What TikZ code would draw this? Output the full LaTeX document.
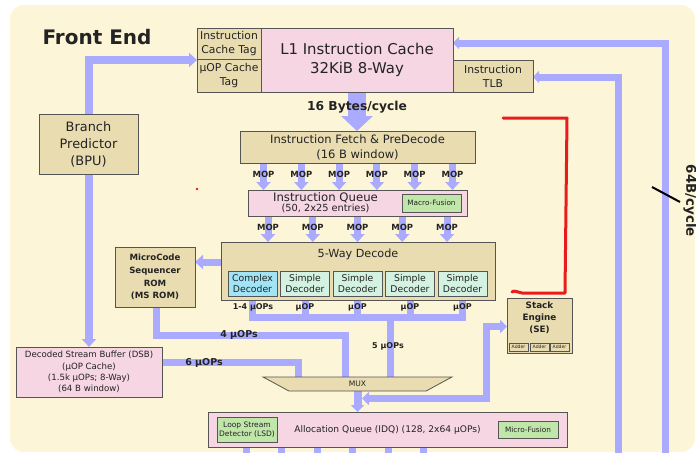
\documentclass[tikz,border=0pt]{standalone}
\usepackage{fontspec}
\setmainfont{DejaVu Sans}
\usetikzlibrary{arrows.meta,shapes.geometric}
\pgfdeclarelayer{bglayer}
\pgfdeclarelayer{linelayer}
\pgfsetlayers{bglayer,linelayer,main}
\definecolor{creamc}{RGB}{253,245,215}
\definecolor{tanc}{RGB}{232,220,176}
\definecolor{pinkc}{RGB}{245,214,226}
\definecolor{greenc}{RGB}{192,230,170}
\definecolor{cyanc}{RGB}{160,228,246}
\definecolor{mintc}{RGB}{212,242,226}
\definecolor{flowc}{RGB}{170,170,255}
\definecolor{bordc}{RGB}{85,85,85}
\definecolor{txtc}{RGB}{35,35,35}
\definecolor{redc}{RGB}{232,28,28}
\newcommand{\fsz}[2]{\fontsize{#1}{#2}\selectfont}
\tikzset{
  bx/.style={draw=bordc, line width=0.8pt, inner sep=0pt, outer sep=0pt, align=center, text=txtc},
  tanbox/.style={bx, fill=tanc},
  pinkbox/.style={bx, fill=pinkc},
  greenbox/.style={bx, fill=greenc},
  cyanbox/.style={bx, fill=cyanc},
  mintbox/.style={bx, fill=mintc},
  sz/.style 2 args={minimum width=#1pt, minimum height=#2pt},
  lbl/.style={inner sep=0pt, text=txtc, align=center},
  flow/.style={draw=flowc, line width=7pt, line join=miter},
  arr/.style={-{Triangle[width=14pt,length=8pt]}},
  sarr/.style={-{Triangle[width=12pt,length=6pt]}},
}
\begin{document}
\begin{tikzpicture}[x=1pt,y=-1pt]
\useasboundingbox (0,0) rectangle (696,453);
\begin{pgfonlayer}{bglayer}
\fill[white] (0,0) rectangle (696,453);
\fill[creamc, rounded corners=14pt] (10,5) rectangle (695,452);
\end{pgfonlayer}

% boxes
\node[tanbox, sz={64}{31}, font=\fsz{10.8}{14}] (ict) at (229,43.5) {Instruction\\Cache Tag};
\node[tanbox, sz={64}{33}, font=\fsz{10.8}{14}] (uct) at (229,75.5) {μOP Cache\\Tag};
\node[pinkbox, sz={192}{64}, font=\fsz{14.9}{18.7}] (l1) at (357,60) {L1 Instruction Cache\\32KiB 8-Way};
\node[tanbox, sz={80}{32}, font=\fsz{10.8}{14}] (tlb) at (493,76) {Instruction\\TLB};
\node[tanbox, sz={235}{32}, font=\fsz{11.5}{15}] (fetch) at (357.5,147) {Instruction Fetch \& PreDecode\\(16 B window)};
\node[pinkbox, sz={219}{26}] (iq) at (357.5,203) {};
\node[lbl, font=\fsz{11.7}{13}] (iqt1) at (325.5,197.7) {Instruction Queue};
\node[lbl, font=\fsz{9.8}{11}] (iqt2) at (325.5,208.8) {(50, 2x25 entries)};
\node[greenbox, sz={59}{18}, font=\fsz{7.3}{9}] (mf1) at (431.5,203) {Macro-Fusion};
\node[tanbox, sz={274}{58}] (dec) at (358,271) {};
\node[lbl, font=\fsz{11.2}{13}] (dect) at (358,254) {5-Way Decode};
\node[cyanbox, sz={49}{25}, font=\fsz{9.3}{11.3}] (d1) at (252.5,283.5) {Complex\\Decoder};
\foreach \i/\x in {2/305,3/357.5,4/410,5/462.5}
  \node[mintbox, sz={49}{25}, font=\fsz{9.3}{11.3}] (d\i) at (\x,283.5) {Simple\\Decoder};
\node[tanbox, sz={80}{60}, font=\bfseries\fsz{8.6}{12.6}] (ms) at (155,277) {MicroCode\\Sequencer\\ROM\\(MS ROM)};
\node[tanbox, sz={99}{60}, font=\fsz{12.9}{17}] (bpu) at (88.5,144) {Branch\\Predictor\\(BPU)};
\node[pinkbox, sz={146}{50}, font=\fsz{8.6}{11.4}] (dsb) at (89,372) {Decoded Stream Buffer (DSB)\\(μOP Cache)\\(1.5k μOPs; 8-Way)\\(64 B window)};
\node[trapezium, trapezium angle=60, trapezium stretches=true, shape border rotate=180,
      draw=bordc, fill=tanc, line width=0.8pt, minimum width=189pt, minimum height=14pt,
      inner sep=0pt, outer sep=0pt, font=\fsz{7.6}{9}, text=txtc] (mux) at (357.5,384) {MUX};
\node[tanbox, sz={65}{55}] (se) at (539.5,325.5) {};
\node[lbl, font=\bfseries\fsz{8.8}{12.2}] (set) at (539.5,318) {Stack\\Engine\\(SE)};
\foreach \i/\x in {1/518.5,2/539.5,3/559.5}
  \node[tanbox, line width=0.5pt, sz={19}{8}, font=\fsz{4.6}{5}] (add\i) at (\x,347) {Adder};
\node[pinkbox, sz={359}{35}, font=\fsz{9.1}{11}] (idq) at (387.5,429.5) {Allocation Queue (IDQ) (128, 2x64 μOPs)};
\node[greenbox, sz={60}{25}, font=\fsz{7.5}{9}] (lsd) at (247,429.5) {Loop Stream\\Detector (LSD)};
\node[greenbox, sz={60}{17}, font=\fsz{7.3}{9}] (mf2) at (528,429.5) {Micro-Fusion};

% coordinates
\coordinate (bpuc) at (89,60);
\coordinate (oc) at (665,43);
\coordinate (ob) at (665,453);
\coordinate (ic) at (618,77);
\coordinate (ib) at (618,453);
\foreach \i in {0,...,5} \coordinate (m\i) at ({263.5+37.8*\i},174);
\foreach \i in {0,...,4} \coordinate (n\i) at ({268+44.75*\i},227);
\coordinate (dm) at (208,262);
\coordinate (bus) at (0,317);
\coordinate (bm) at (390,317);
\coordinate (msc) at (156,335);
\coordinate (msd) at (345,335);
\coordinate (dsc) at (298.5,362.5);
\coordinate (sa) at (362,398.5);
\coordinate (sb) at (486.5,398.5);
\coordinate (sc) at (486.5,326.5);
\foreach \i in {0,...,5} \coordinate (s\i) at ({246.5+35.4*\i},453);

\begin{pgfonlayer}{linelayer}
\draw[flow, line width=18pt, -{Triangle[width=31pt,length=15pt]}] (l1.south) -- (l1.south |- fetch.north);
\draw[flow, line width=8pt, {Triangle[width=14pt,length=8pt]}-{Triangle[width=14pt,length=8pt]}]
  (dsb.north -| bpuc) -- (bpuc) -- (uct.west |- bpuc);
\draw[flow, sarr] (ob) -- (oc) -- (l1.east |- oc);
\draw[flow, sarr] (ib) -- (ic) -- (tlb.east |- ic);
\foreach \i in {0,...,5} \draw[flow, arr] (fetch.south -| m\i) -- (iq.north -| m\i);
\foreach \i in {0,...,4} \draw[flow, arr] (iq.south -| n\i) -- (dec.north -| n\i);
\draw[flow, arr] (dec.west |- dm) -- (ms.east |- dm);
\draw[flow] (d1.south) -- (d1.south |- bus) -- (d5.south |- bus) -- (d5.south);
\foreach \i in {2,3,4} \draw[flow] (d\i.south) -- (d\i.south |- bus);
\draw[flow] (bm) -- (bm |- mux.north);
\draw[flow] (ms.south -| msc) -- (msc) -- (msd) -- (msd |- mux.north);
\draw[flow] (dsb.east |- dsc) -- (dsc) -- (dsc |- mux.north);
\draw[flow, line width=8pt, -{Triangle[width=13pt,length=7pt]}] (mux.south) -- (idq.north -| mux.south);
\draw[flow, {Triangle[width=13pt,length=7pt]}-{Triangle[width=13pt,length=7pt]}] (sa) -- (sb) -- (sc) -- (se.west |- sc);
\foreach \i in {0,...,5} \draw[flow] (idq.south -| s\i) -- (s\i);
\end{pgfonlayer}

% labels
\node[lbl, font=\bfseries\fsz{20}{22}] (title) at (97,37) {Front End};
\node[lbl, font=\bfseries\fsz{12.3}{14}, anchor=base] (bw) at (357,110.5) {16 Bytes/cycle};
\foreach \i in {0,...,5} \node[lbl, font=\bfseries\fsz{8.5}{10}] at (m\i) {MOP};
\foreach \i in {0,...,4} \node[lbl, font=\bfseries\fsz{8.5}{10}] at (n\i) {MOP};
\node[lbl, font=\bfseries\fsz{8}{10}, anchor=base] (u1) at (253,309.5) {1-4 μOPs};
\foreach \i in {2,3,4,5} \node[lbl, font=\bfseries\fsz{8}{10}, anchor=base] at (d\i.south |- 0,309.5) {μOP};
\node[lbl, font=\bfseries\fsz{9.5}{11}, anchor=base] (u4) at (239,337.5) {4 μOPs};
\node[lbl, font=\bfseries\fsz{9.5}{11}, anchor=base] (u6) at (204,365.7) {6 μOPs};
\node[lbl, font=\bfseries\fsz{8}{10}, anchor=base] (u5) at (388,348.3) {5 μOPs};
\node[lbl, font=\bfseries\fsz{13.4}{15}, rotate=-90] (b64) at (690,201) {64B/cycle};
\draw[line width=2pt, black] (652,187) -- (680,202);

% red annotation
\draw[redc, line width=3pt, line cap=round, line join=round]
  (503,118) -- (567,118) -- (565,293) -- (522,293) .. controls (517,292) and (514,290) .. (512,292);
\fill[redc] (197,189) circle (1.3);
\end{tikzpicture}
\end{document}
